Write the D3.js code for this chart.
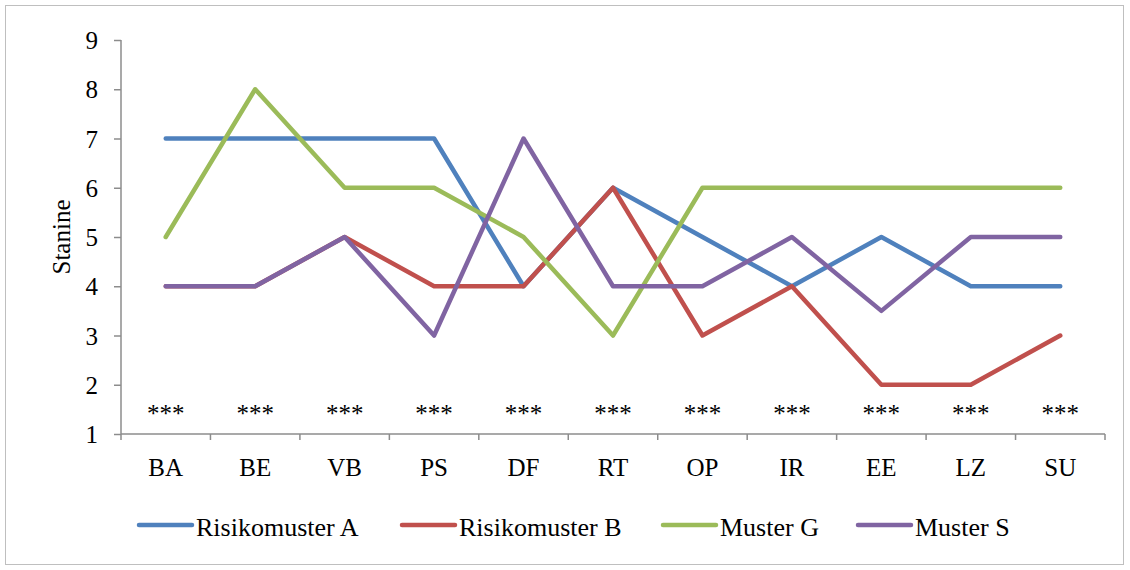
<!DOCTYPE html>
<html><head><meta charset="utf-8">
<script src="https://cdn.jsdelivr.net/npm/d3@7"></script>
<style>body{margin:0;background:#fff}svg{display:block}</style>
</head><body>
<script>
const categories = ["BA","BE","VB","PS","DF","RT","OP","IR","EE","LZ","SU"];
const seriesNames = ["Risikomuster A","Risikomuster B","Muster G","Muster S"];
const risikoA = [7,7,7,7,4,6,5,4,5,4,4];
const risikoB = [4,4,5,4,4,6,3,4,2,2,3];
const musterG = [5,8,6,6,5,3,6,6,6,6,6];
const musterS = [4,4,5,3,7,4,4,5,3.5,5,5];
const yTicks = [1,2,3,4,5,6,7,8,9];
const sigLabels = ["***","***","***","***","***","***","***","***","***","***","***"];
const colors = ["#4F81BD","#C0504D","#9BBB59","#8064A2"];

const W=1130,H=570;
const svg=d3.select("body").append("svg").attr("width",W).attr("height",H);
svg.append("rect").attr("x",5.5).attr("y",5.5).attr("width",1118).attr("height",559)
  .attr("fill","#fff").attr("stroke","#BFBFBF").attr("stroke-width",1);

const x=d3.scaleBand().domain(categories).range([121,1105]);
const y=d3.scaleLinear().domain([1,9]).range([434,40]);
const font="'Liberation Serif','Times New Roman',serif";

// y axis
const ya=svg.append("g").attr("transform","translate(121,0)")
  .call(d3.axisLeft(y).tickValues(yTicks).tickSize(7).tickPadding(16).tickFormat(d3.format("d")));
ya.select(".domain").attr("stroke","#8C8C8C").attr("stroke-width",1.5).attr("d","M0,40V434");
ya.selectAll(".tick line").attr("stroke","#8C8C8C").attr("stroke-width",1.5);
ya.selectAll("text").attr("font-family",font).attr("font-size",25).attr("fill","#000").attr("dy","0.34em");

// x axis
const xa=svg.append("g").attr("transform","translate(0,434)");
xa.append("line").attr("x1",121).attr("x2",1105).attr("stroke","#8C8C8C").attr("stroke-width",1.5);
const bounds=categories.map(c=>x(c)).concat([x.range()[1]]);
xa.selectAll("line.tk").data(bounds).enter().append("line").attr("class","tk")
  .attr("x1",d=>d).attr("x2",d=>d).attr("y1",0).attr("y2",6).attr("stroke","#8C8C8C").attr("stroke-width",1.5);
xa.selectAll("text").data(categories).enter().append("text")
  .attr("x",d=>x(d)+x.bandwidth()/2).attr("y",42).attr("text-anchor","middle")
  .attr("font-family",font).attr("font-size",25).attr("fill","#000").text(d=>d);

// y label
svg.append("text").attr("transform","translate(70,237) rotate(-90)").attr("text-anchor","middle")
  .attr("font-family",font).attr("font-size",25).attr("fill","#000").text("Stanine");

// significance
svg.selectAll("text.sig").data(categories).enter().append("text").attr("class","sig")
  .attr("x",d=>x(d)+x.bandwidth()/2).attr("y",422).attr("text-anchor","middle")
  .attr("font-family",font).attr("font-size",25).attr("fill","#000").text((d,i)=>sigLabels[i]);

// lines
const allSeries=[risikoA,risikoB,musterG,musterS];
const line=d3.line().x((d,i)=>x(categories[i])+x.bandwidth()/2).y(d=>y(d));
allSeries.forEach((s,k)=>{
  svg.append("path").datum(s).attr("d",line).attr("fill","none").attr("stroke",colors[k])
    .attr("stroke-width",4.5).attr("stroke-linejoin","round").attr("stroke-linecap","round");
});

// legend
const legX=[139,402,663,858];
seriesNames.forEach((n,k)=>{
  const g=svg.append("g");
  g.append("line").attr("x1",legX[k]).attr("x2",legX[k]+53).attr("y1",525).attr("y2",525)
    .attr("stroke",colors[k]).attr("stroke-width",4.5).attr("stroke-linecap","round");
  g.append("text").attr("x",legX[k]+57).attr("y",536).attr("font-family",font).attr("font-size",26)
    .attr("fill","#000").text(n);
});
</script>
</body></html>
